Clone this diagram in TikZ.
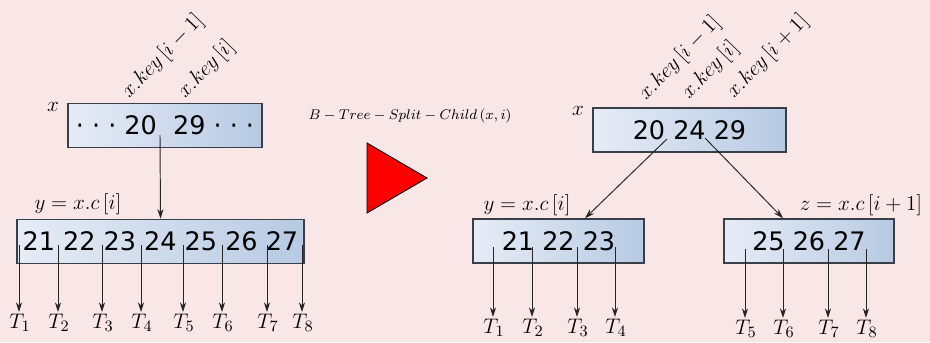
\documentclass[tikz,border=0pt]{standalone}
\usepackage{fontspec}
\newfontfamily\keyfont{DejaVu Sans}
\usetikzlibrary{arrows.meta, positioning}
\definecolor{pagebg}{HTML}{F9E6E7}
\definecolor{boxleft}{HTML}{E6ECF6}
\definecolor{boxright}{HTML}{B7CAE3}
\definecolor{boxline}{HTML}{3A3F47}
\tikzset{
  keybox/.style={rectangle,draw=boxline,line width=0.85pt,left color=boxleft,right color=boxright,
    minimum height=0.88cm,inner sep=0pt,font=\keyfont\fontsize{14.5}{17}\selectfont},
  keylabel/.style={rotate=46,anchor=base west,inner sep=1pt,font=\fontsize{13}{15}\selectfont},
  tlabel/.style={anchor=north,inner sep=1pt,font=\fontsize{13}{15}\selectfont},
  namelabel/.style={inner sep=1pt,font=\fontsize{12.8}{15}\selectfont},
  line/.style={draw=black!85,line width=0.55pt,-{Stealth[length=5.5pt,width=3.5pt]}}
}
\begin{document}
\begin{tikzpicture}[x=0.02cm,y=0.02cm]
\fill[pagebg] (0,0) rectangle (930,342);
\useasboundingbox (0,0) rectangle (930,342);

% before the split
\node[keybox, minimum width=3.88cm] (xl) at (165,216.5) {· · · 20\ \ 29 · · ·};
\node[namelabel] (xlname) at (53,235) {$x$};
\node[keylabel] (kl1) at (128,242) {$x.key\left[i-1\right]$};
\node[keylabel] (kl2) at (184,242) {$x.key\left[i\right]$};
\node[keybox, minimum width=5.74cm] (yl) at (160.5,100.5) {21 22 23 24 25 26 27};
\node[namelabel] (ylname) at (78,138) {$y=x.c\left[i\right]$};
\coordinate (cl) at (160,207);
\draw[line] (cl) -- (yl.north);
\foreach \px/\k in {19/1,58/2,102/3,141/4,183/5,222/6,267/7,302/8} {
  \coordinate (pl\k) at (\px,97);
  \node[tlabel] (tl\k) at (\px+1,30) {$T_{\k}$};
  \draw[line] (pl\k) -- (pl\k |- tl\k.north);
}

% the operation
\node[inner sep=1pt, font=\fontsize{8.5}{10}\selectfont] (op) at (410,226)
  {$B-Tree-Split-Child\left(x,i\right)$};
\draw[fill=red, draw=black, line width=0.5pt] (367,199) -- (427,164) -- (367,129) -- cycle;

% after the split
\node[keybox, minimum width=3.86cm] (xr) at (689.5,212) {20 24 29};
\node[namelabel] (xrname) at (578,231) {$x$};
\node[keylabel] (kr1) at (645,240) {$x.key\left[i-1\right]$};
\node[keylabel] (kr2) at (688,241) {$x.key\left[i\right]$};
\node[keylabel] (kr3) at (733,242) {$x.key\left[i+1\right]$};
\node[keybox, minimum width=3.42cm] (yr) at (558.5,101) {21 22 23};
\node[keybox, minimum width=3.40cm] (zr) at (809,101) {25 26 27};
\node[namelabel] (yrname) at (527,137) {$y=x.c\left[i\right]$};
\node[namelabel] (zrname) at (861,137) {$z=x.c\left[i+1\right]$};
\coordinate (cy) at (667,203);
\coordinate (cz) at (705,204);
\draw[line] (cy) -- ([xshift=0.53cm]yr.north);
\draw[line] (cz) -- ([xshift=-0.52cm]zr.north);
\foreach \px/\k in {493/1,532/2,577/3,615/4} {
  \coordinate (py\k) at (\px,95);
  \node[tlabel] (ty\k) at (\px+1,25) {$T_{\k}$};
  \draw[line] (py\k) -- (py\k |- ty\k.north);
}
\foreach \px/\k in {745/5,783/6,828/7,866/8} {
  \coordinate (pz\k) at (\px,93);
  \node[tlabel] (tz\k) at (\px+1,24) {$T_{\k}$};
  \draw[line] (pz\k) -- (pz\k |- tz\k.north);
}
\end{tikzpicture}
\end{document}
